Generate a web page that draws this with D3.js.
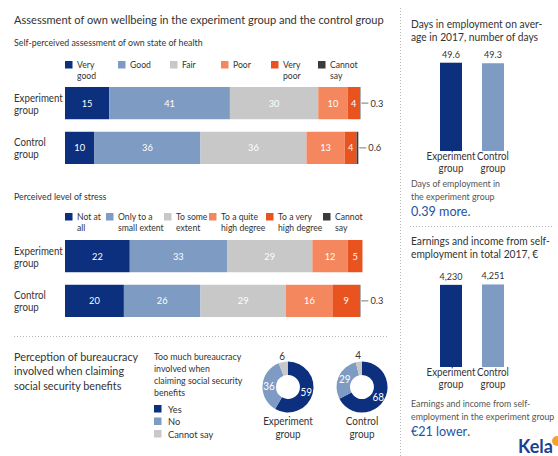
<!DOCTYPE html>
<html>
<head>
<meta charset="utf-8">
<script src="https://cdn.jsdelivr.net/npm/d3@7"></script>
<style>
  body { margin: 0; background: #fff; }
  svg text { font-family: Lato, "Liberation Sans", sans-serif; fill: #333; }
</style>
</head>
<body>
<div class="chart"></div>
<script>
// data
const groups = ["Experiment group", "Control group"]
const healthCats = ["Very good", "Good", "Fair", "Poor", "Very poor", "Cannot say"]
const healthExp = [15, 41, 30, 10, 4, 0.3]
const healthCtrl = [10, 36, 36, 13, 4, 0.6]
const stressCats = ["Not at all", "Only to a small extent", "To some extent", "To a quite high degree", "To a very high degree", "Cannot say"]
const stressExp = [22, 33, 29, 12, 5, 0]
const stressCtrl = [20, 26, 29, 16, 9, 0.3]
const daysValues = [49.6, 49.3]
const earnValues = [4230, 4251]
const bureauCats = ["Yes", "No", "Cannot say"]
const bureauExp = [59, 36, 6]
const bureauCtrl = [68, 29, 4]

// legend line breaks and colours
const healthLegend = [["Very", "good"], ["Good"], ["Fair"], ["Poor"], ["Very", "poor"], ["Cannot", "say"]]
const stressLegend = [["Not at", "all"], ["Only to a", "small extent"], ["To some", "extent"], ["To a quite", "high degree"], ["To a very", "high degree"], ["Cannot", "say"]]
const segColours = ["#0c2f7e", "#7e9bc4", "#c8c8c8", "#f4875d", "#e9531f", "#3b3b3b"]
const donutColours = ["#0c2f7e", "#7e9bc4", "#c8c8c8"]
const blueText = "#2452a3"
const squeeze = 0.9   // the original face is a narrow one

const svg = d3.select(".chart").append("svg").attr("width", 558).attr("height", 456)

// separators
const dotted = (x1, y1, x2, y2) => svg.append("line").attr("x1", x1).attr("y1", y1).attr("x2", x2).attr("y2", y2)
  .attr("stroke", "#b8b8b8").attr("stroke-width", 1).attr("stroke-dasharray", "1,2")
dotted(400.5, 8, 400.5, 456)
dotted(14, 336.5, 388, 336.5)
dotted(410, 226.5, 553, 226.5)

const multiline = (g, lines, x, y, lh, anchor) => {
  const t = g.append("text").attr("x", x).attr("y", y).attr("text-anchor", anchor || "start")
  lines.forEach((l, i) => t.append("tspan").attr("x", x).attr("dy", i == 0 ? 0 : lh).text(l))
  return t
}

// titles
svg.append("text").attr("x", 14).attr("y", 24).style("font-size", "12.3px").text("Assessment of own wellbeing in the experiment group and the control group")
svg.append("text").attr("x", 14).attr("y", 46).style("font-size", "9.8px").text("Self-perceived assessment of own state of health")
svg.append("text").attr("x", 14).attr("y", 200).style("font-size", "9.8px").text("Perceived level of stress")

const x = d3.scaleLinear().domain([0, 100]).range([65, 359.5])

function stacked(cats, legendLines, legendX, legendY, expVals, ctrlVals, top, bottom) {
  const g = svg.append("g")
  // legend
  const leg = g.selectAll(".leg").data(cats).enter().append("g")
    .attr("transform", (d, i) => `translate(${legendX[i]},${legendY})`)
  leg.append("rect").attr("width", 7.5).attr("height", 7.5).attr("fill", (d, i) => segColours[i])
  leg.each(function (d, i) {
    multiline(d3.select(this), legendLines[i], 12, 7, 11).style("font-size", "9.6px")
  })

  const rows = groups.map((gr, gi) => {
    const r = { group: gr }
    cats.forEach((c, ci) => r[c] = (gi == 0 ? expVals : ctrlVals)[ci])
    return r
  })
  const series = d3.stack().keys(cats)(rows)
  const y = d3.scaleBand().domain(groups).range([top, bottom]).paddingInner(0.28)

  series.forEach((s, si) => {
    g.selectAll(null).data(s).enter().append("rect")
      .attr("x", d => x(d[0])).attr("width", d => x(d[1]) - x(d[0]))
      .attr("y", d => y(d.data.group)).attr("height", y.bandwidth())
      .attr("fill", segColours[si])
    g.selectAll(null).data(s.filter(d => d[1] - d[0] >= 1)).enter().append("text")
      .attr("x", d => (x(d[0]) + x(d[1])) / 2).attr("y", d => y(d.data.group) + y.bandwidth() / 2 + 3.5)
      .attr("text-anchor", "middle").style("font-size", "10.3px").style("fill", "#fff")
      .text(d => d[1] - d[0])
    // tiny values get a leader line
    const small = s.filter(d => d[1] - d[0] > 0 && d[1] - d[0] < 1)
    g.selectAll(null).data(small).enter().append("line")
      .attr("x1", d => x(d[1]) + 1).attr("x2", d => x(d[1]) + 8)
      .attr("y1", d => y(d.data.group) + y.bandwidth() / 2).attr("y2", d => y(d.data.group) + y.bandwidth() / 2)
      .attr("stroke", "#555").attr("stroke-width", 0.8)
    g.selectAll(null).data(small).enter().append("text")
      .attr("x", d => x(d[1]) + 10).attr("y", d => y(d.data.group) + y.bandwidth() / 2 + 3.5)
      .style("font-size", "10.3px").text(d => d3.format(".1f")(d[1] - d[0]))
  })

  // group labels
  groups.forEach(gr => {
    multiline(g, gr.split(" "), 14, y(gr) + y.bandwidth() / 2 - 1.5, 12).style("font-size", "10.8px")
  })
}

stacked(healthCats, healthLegend, [65, 118, 170, 221, 271, 318], 61, healthExp, healthCtrl, 87, 164)
stacked(stressCats, stressLegend, [65, 106, 164, 209, 266, 323], 213, stressExp, stressCtrl, 240, 317)

// right hand column bars
function columns(values, fmt, titleLines, titleY, top, baseline, maxV, noteLines, noteY, highlight) {
  const g = svg.append("g")
  multiline(g, titleLines, 411, titleY, 13.5).style("font-size", "11.4px")
  const xb = d3.scaleBand().domain(groups).range([440, 504]).paddingInner(0.476)
  const y = d3.scaleLinear().domain([0, maxV]).range([baseline, top])
  g.selectAll(null).data(values).enter().append("rect")
    .attr("x", (d, i) => xb(groups[i])).attr("width", xb.bandwidth())
    .attr("y", d => y(d)).attr("height", d => baseline - y(d))
    .attr("fill", (d, i) => segColours[i])
  g.selectAll(null).data(values).enter().append("text")
    .attr("x", (d, i) => xb(groups[i]) + xb.bandwidth() / 2).attr("y", d => y(d) - 5)
    .attr("text-anchor", "middle").style("font-size", "10px").text(fmt)
  groups.forEach(gr => {
    multiline(g, gr.split(" "), xb(gr) + xb.bandwidth() / 2, baseline + 9, 12, "middle").style("font-size", "10.8px")
  })
  multiline(g, noteLines, 411, noteY, 13).style("font-size", "9.8px").style("fill", "#555")
  const h = g.append("text").attr("x", 411).attr("y", noteY + 29).style("font-size", "14px")
  h.append("tspan").style("fill", blueText).text(highlight)
  h.append("tspan").style("fill", "#555").text(".")
}

columns(daysValues, d3.format(".1f"), ["Days in employment on aver-", "age in 2017, number of days"], 28,
  62, 151, 50, ["Days of employment in", "the experiment group"], 187, "0.39 more")
columns(earnValues, d3.format(","), ["Earnings and income from self-", "employment in total 2017, \u20ac"], 245,
  283.5, 367, 4300, ["Earnings and income from self-", "employment in the experiment group"], 407, "\u20ac21 lower")

// bureaucracy
multiline(svg, ["Perception of bureaucracy", "involved when claiming", "social security benefits"], 14, 361, 14.4).style("font-size", "12px")
multiline(svg, ["Too much bureaucracy", "involved when", "claiming social security", "benefits"], 154, 360, 12).style("font-size", "9.8px")
const bl = svg.selectAll(".bl").data(bureauCats).enter().append("g")
  .attr("transform", (d, i) => `translate(154,${405 + i * 12.5})`)
bl.append("rect").attr("width", 7.5).attr("height", 7.5).attr("fill", (d, i) => donutColours[i])
bl.append("text").attr("x", 14).attr("y", 7.5).style("font-size", "10.3px").text(d => d)

const pie = d3.pie().sort(null).value(d => d)
const arc = d3.arc().innerRadius(12).outerRadius(25.5)
const labelArcIn = d3.arc().innerRadius(19).outerRadius(19)
const labelArcOut = d3.arc().innerRadius(32).outerRadius(32)

function donut(vals, cx, name) {
  const g = svg.append("g").attr("transform", `translate(${cx},387)`)
  const a = pie(vals)
  g.selectAll("path").data(a).enter().append("path").attr("d", arc).attr("fill", (d, i) => donutColours[i])
  g.selectAll(null).data(a).enter().append("text")
    .attr("transform", (d, i) => `translate(${(i == 2 ? labelArcOut : labelArcIn).centroid(d)})`)
    .attr("dy", 4).attr("text-anchor", "middle").style("font-size", "11px")
    .style("fill", (d, i) => i == 2 ? "#333" : "#fff").text(d => d.data)
  multiline(g, name.split(" "), 0, 38.5, 12.5, "middle").style("font-size", "11px")
}
donut(bureauExp, 288, groups[0])
donut(bureauCtrl, 362, groups[1])

// logo
svg.append("text").attr("class", "logo").attr("x", 518).attr("y", 453).style("font-size", "18px").style("font-weight", "bold")
  .style("fill", "#1c3f94").text("Kela")
svg.append("circle").attr("cx", 557).attr("cy", 441).attr("r", 5).attr("fill", "#f4a330")

// narrow every text about its anchor x to imitate the original face
svg.selectAll("text").each(function () {
  const t = d3.select(this)
  if (t.classed("logo")) return
  const x0 = +t.attr("x") || 0
  const tr = t.attr("transform") || ""
  t.attr("transform", `${tr} translate(${x0},0) scale(${squeeze},1) translate(${-x0},0)`)
})
</script>
</body>
</html>
